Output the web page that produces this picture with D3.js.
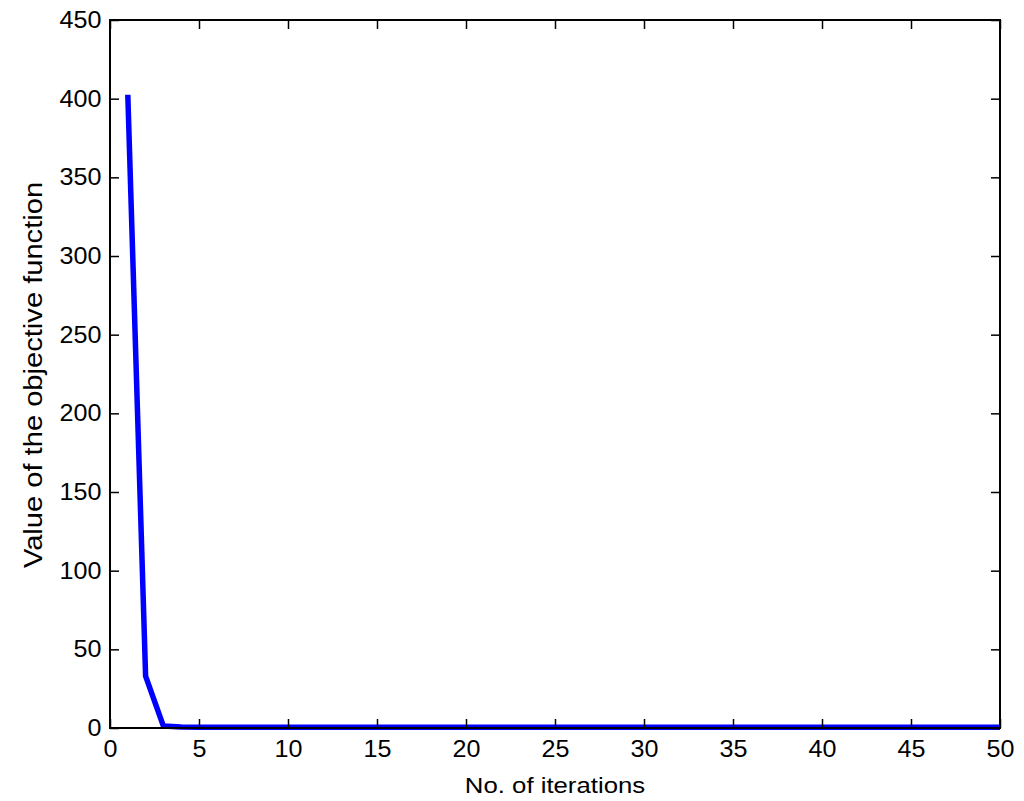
<!DOCTYPE html>
<html>
<head>
<meta charset="utf-8">
<script src="https://cdn.jsdelivr.net/npm/d3@7"></script>
<style>
  html, body { margin: 0; padding: 0; background: #fff; }
  text { font-family: "Liberation Sans", Arial, Helvetica, sans-serif; fill: #000; }
</style>
</head>
<body>
<svg id="canvas" width="1024" height="801"></svg>
<script>
'use strict';

// iterations and objective values
const iterations = [1, 2, 3, 4, 5, 6, 7, 8, 9, 10,
    11, 12, 13, 14, 15, 16, 17, 18, 19, 20,
    21, 22, 23, 24, 25, 26, 27, 28, 29, 30,
    31, 32, 33, 34, 35, 36, 37, 38, 39, 40,
    41, 42, 43, 44, 45, 46, 47, 48, 49, 50];
const objective = [402.5, 33, 1.2, 0.6, 0.5, 0.4, 0.4, 0.4, 0.4, 0.4,
    0.4, 0.4, 0.4, 0.4, 0.4, 0.4, 0.4, 0.4, 0.4, 0.4,
    0.4, 0.4, 0.4, 0.4, 0.4, 0.4, 0.4, 0.4, 0.4, 0.4,
    0.4, 0.4, 0.4, 0.4, 0.4, 0.4, 0.4, 0.4, 0.4, 0.4,
    0.4, 0.4, 0.4, 0.4, 0.4, 0.4, 0.4, 0.4, 0.4, 0.4];
const xTicks = [0, 5, 10, 15, 20, 25, 30, 35, 40, 45, 50];
const yTicks = [0, 50, 100, 150, 200, 250, 300, 350, 400, 450];

document.addEventListener('DOMContentLoaded', function() {
    const svg = d3.select('#canvas');
    const plotLeft = 110, plotRight = 1000, plotTop = 20, plotBottom = 728;
    const tickLen = 9;
    const tickFont = 23.5;
    const stretch = 1.07;   // the reference glyphs are a bit wider than Liberation Sans

    const x = d3.scaleLinear().domain([0, 50]).range([plotLeft, plotRight]);
    const y = d3.scaleLinear().domain([0, 450]).range([plotBottom, plotTop]);

    const data = iterations.map(function(d, i) { return { it: d, v: objective[i] }; });

    // the line itself
    const line = d3.line()
        .x(function(d) { return x(d.it); })
        .y(function(d) { return y(d.v); });

    svg.append('path')
        .datum(data)
        .attr('fill', 'none')
        .attr('stroke', '#0000ff')
        .attr('stroke-width', 5.5)
        .attr('stroke-linejoin', 'round')
        .attr('d', line);

    // axes: ticks pointing inward, mirrored on top and right
    const axes = svg.append('g').attr('class', 'axes');

    function styleAxis(g) {
        g.select('.domain').remove();
        g.selectAll('.tick line').attr('stroke', '#000').attr('stroke-width', 1.5);
        g.selectAll('.tick text')
            .style('font-size', tickFont + 'px')
            .style('font-family', '"Liberation Sans", Arial, sans-serif');
    }

    axes.append('g')
        .attr('transform', 'translate(0,' + plotBottom + ')')
        .call(d3.axisTop(x).tickValues(xTicks).tickSize(tickLen).tickFormat(''))
        .call(styleAxis);

    const xLabels = axes.append('g')
        .attr('transform', 'translate(0,' + plotBottom + ')')
        .call(d3.axisBottom(x).tickValues(xTicks).tickSize(0).tickPadding(12).tickFormat(d3.format('d')))
        .call(styleAxis);
    xLabels.selectAll('.tick text').attr('transform', 'scale(' + stretch + ',1)');

    axes.append('g')
        .attr('transform', 'translate(0,' + plotTop + ')')
        .call(d3.axisBottom(x).tickValues(xTicks).tickSize(tickLen).tickFormat(''))
        .call(styleAxis);

    axes.append('g')
        .attr('transform', 'translate(' + plotLeft + ',0)')
        .call(d3.axisRight(y).tickValues(yTicks).tickSize(tickLen).tickFormat(''))
        .call(styleAxis);

    const yLabels = axes.append('g')
        .attr('transform', 'translate(' + plotLeft + ',0)')
        .call(d3.axisLeft(y).tickValues(yTicks).tickSize(0).tickPadding(8).tickFormat(d3.format('d')))
        .call(styleAxis);
    yLabels.selectAll('.tick text').attr('transform', 'scale(' + stretch + ',1)');

    axes.append('g')
        .attr('transform', 'translate(' + plotRight + ',0)')
        .call(d3.axisLeft(y).tickValues(yTicks).tickSize(tickLen).tickFormat(''))
        .call(styleAxis);

    // box
    svg.append('rect')
        .attr('x', plotLeft)
        .attr('y', plotTop)
        .attr('width', plotRight - plotLeft)
        .attr('height', plotBottom - plotTop)
        .attr('fill', 'none')
        .attr('stroke', '#000')
        .attr('stroke-width', 2);

    // titles
    svg.append('g')
        .attr('transform', 'translate(' + (plotLeft + plotRight) / 2 + ',793) scale(1.12,1)')
        .append('text')
        .attr('text-anchor', 'middle')
        .style('font-size', '23px')
        .text('No. of iterations');

    svg.append('g')
        .attr('transform', 'translate(42,' + ((plotTop + plotBottom) / 2 + 1) + ') rotate(-90) scale(1.12,1)')
        .append('text')
        .attr('text-anchor', 'middle')
        .style('font-size', '26px')
        .text('Value of the objective function');
});
</script>
</body>
</html>
